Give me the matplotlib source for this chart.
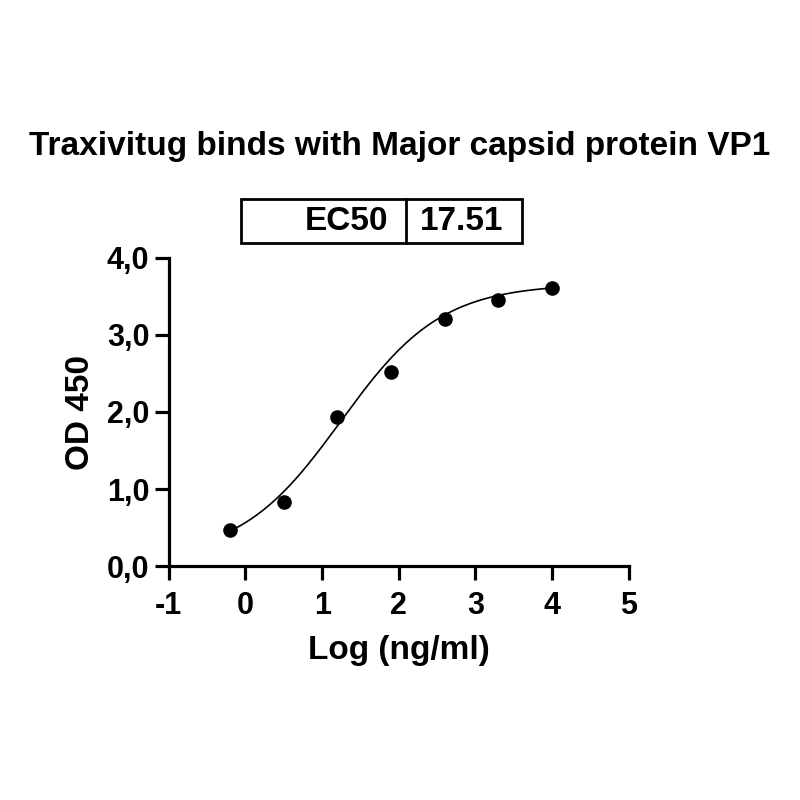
import numpy as np
import matplotlib
matplotlib.use("Agg")
import matplotlib.pyplot as plt
from matplotlib.patches import Rectangle
from matplotlib.lines import Line2D

plt.rcParams['font.family'] = ['Liberation Sans', 'DejaVu Sans']
plt.rcParams['font.weight'] = 'bold'

log_conc = [-0.2, 0.5, 1.2, 1.9, 2.6, 3.3, 4.0]
od450 = [0.47, 0.84, 1.93, 2.52, 3.21, 3.45, 3.60]

# 4PL fit parameters (estimated)
bottom, top, ec50, hill = 0.10, 3.66, 17.51, 0.66
log_ec50 = np.log10(ec50)

xticks = [-1, 0, 1, 2, 3, 4, 5]
yticks = [0.0, 1.0, 2.0, 3.0, 4.0]
ytick_labels = ["0,0", "1,0", "2,0", "3,0", "4,0"]

fig = plt.figure(figsize=(8, 8), dpi=100)
ax = fig.add_axes([0.211, 0.292, 0.575, 0.386])

xf = np.linspace(min(log_conc), max(log_conc), 300)
yf = bottom + (top - bottom) / (1 + 10 ** ((log_ec50 - xf) * hill))
ax.plot(xf, yf, color='black', lw=1.2, zorder=2)
ax.scatter(log_conc, od450, s=90, color='black', zorder=3)

ax.set_xlim(-1, 5)
ax.set_ylim(0, 4)
ax.set_xticks(xticks)
ax.set_xticklabels([str(t) for t in xticks])
ax.set_yticks(yticks)
ax.set_yticklabels(ytick_labels)
for s in ['top', 'right']:
    ax.spines[s].set_visible(False)
for s in ['left', 'bottom']:
    ax.spines[s].set_linewidth(2.3)
ax.tick_params(width=2.3, length=10, labelsize=22)
ax.tick_params(axis='x', pad=8)
ax.tick_params(axis='y', pad=4)
for lab in ax.get_xticklabels() + ax.get_yticklabels():
    lab.set_fontweight('bold')
ax.set_xlabel("Log (ng/ml)", fontsize=24, fontweight='bold', labelpad=10)
ax.set_ylabel("OD 450", fontsize=24, fontweight='bold', labelpad=8)

fig.text(0.5, 1 - 147 / 800, "Traxivitug binds with Major capsid protein VP1",
         ha='center', va='center', fontsize=24, fontweight='bold')

# EC50 box
bx0, bx1, bdiv = 241 / 800, 522 / 800, 406 / 800
by0, by1 = 1 - 243 / 800, 1 - 199 / 800
fig.patches.append(Rectangle((bx0, by0), bx1 - bx0, by1 - by0, transform=fig.transFigure,
                             fill=False, lw=2, edgecolor='black'))
fig.lines.append(Line2D([bdiv, bdiv], [by0, by1], transform=fig.transFigure, lw=2, color='black'))
fig.text(bdiv - 0.022, (by0 + by1) / 2, "EC50", ha='right', va='center', fontsize=24, fontweight='bold')
fig.text(bdiv + 0.017, (by0 + by1) / 2, f"{ec50:.2f}", ha='left', va='center', fontsize=24, fontweight='bold')

fig.savefig("out.png", dpi=100)
